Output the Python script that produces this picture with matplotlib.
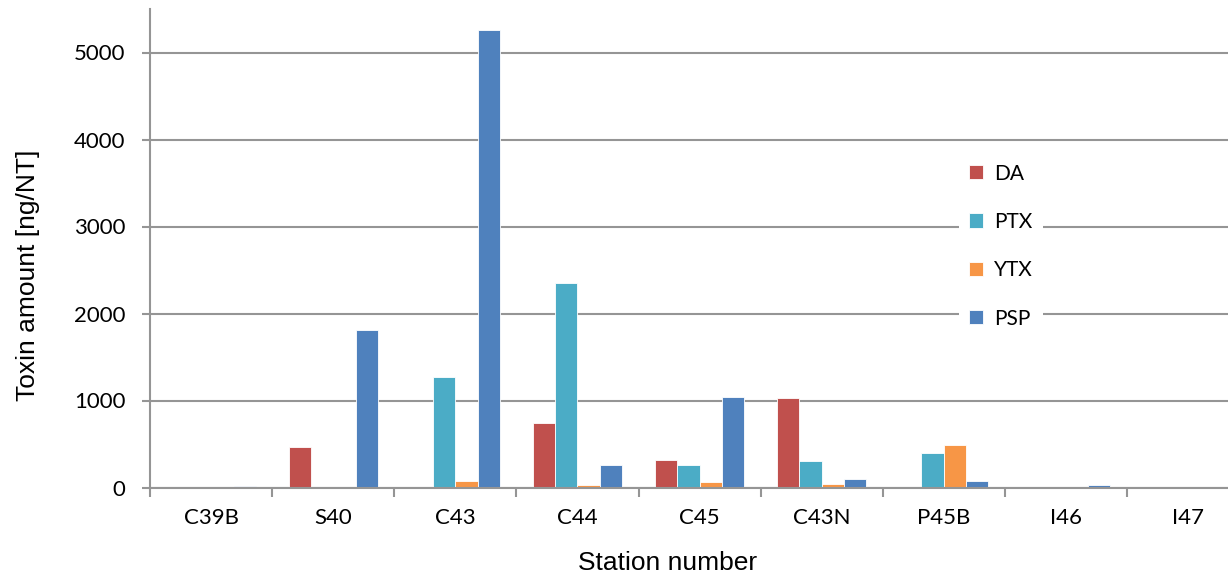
import numpy as np
import matplotlib
matplotlib.use("Agg")
import matplotlib.pyplot as plt

# Данные по станциям
stations = ["C39B", "S40", "C43", "C44", "C45", "C43N", "P45B", "I46", "I47"]
da = [0, 470, 0, 740, 320, 1030, 0, 0, 0]
ptx = [0, 0, 1270, 2350, 260, 300, 400, 0, 0]
ytx = [0, 0, 70, 30, 60, 45, 490, 0, 0]
psp = [12, 1805, 5256, 262, 1040, 95, 75, 30, 6]

series = [("DA", da, "#C0504D"), ("PTX", ptx, "#4BACC6"),
          ("YTX", ytx, "#F79646"), ("PSP", psp, "#4F81BD")]

W, H = 1228, 575
fig = plt.figure(figsize=(W / 100, H / 100), dpi=100)
ax = fig.add_axes([150.3 / W, 1 - 487.5 / H, 1098.5 / W, 478.5 / H])

x = np.arange(len(stations))
bw = 1 / 5.5
for i, (name, vals, col) in enumerate(series):
    ax.bar(x + (i - 1.5) * bw, vals, width=bw, color=col, label=name,
           edgecolor="white", linewidth=0.6, zorder=3)

grid_col = "#959595"
ax.set_xlim(-0.5, len(stations) - 0.5)
ax.set_ylim(0, 5500)
ax.set_yticks(range(0, 5001, 1000))
ax.yaxis.grid(True, color=grid_col, linewidth=1.5, zorder=0)
ax.set_axisbelow(True)

for s in ["top", "right"]:
    ax.spines[s].set_visible(False)
for s in ["left", "bottom"]:
    ax.spines[s].set_color(grid_col)
    ax.spines[s].set_linewidth(1.5)
    ax.spines[s].set_zorder(4)

ax.set_xticks(x)
ax.set_xticklabels(stations)
ax.set_xticks(np.arange(-0.5, len(stations), 1), minor=True)
ax.tick_params(axis="x", which="major", length=0, pad=15)
ax.tick_params(axis="x", which="minor", length=6.5, width=1.5, color=grid_col)
ax.tick_params(axis="y", length=5.8, width=1.5, color=grid_col, pad=12)

for lab in ax.get_xticklabels() + ax.get_yticklabels():
    lab.set_fontfamily("Lato")
    lab.set_fontsize(16)

leg = ax.legend(loc="center", bbox_to_anchor=(1001 / W, 1 - 246 / H),
                bbox_transform=fig.transFigure, frameon=True,
                prop={"family": "Lato", "size": 15},
                handlelength=0.68, handleheight=0.68, labelspacing=1.36,
                handletextpad=0.5, borderpad=0.5, fancybox=False)
leg.get_frame().set_facecolor("white")
leg.get_frame().set_edgecolor("none")
leg.get_frame().set_alpha(1)

fig.text(668 / W, 1 - 569.7 / H, "Station number", ha="center", va="baseline",
         family="Liberation Sans", fontsize=19)
fig.text(28 / W, 1 - 275 / H, "Toxin amount [ng/NT]", ha="center", va="center",
         rotation=90, family="Liberation Sans", fontsize=19)

fig.savefig("out.png", dpi=100)
